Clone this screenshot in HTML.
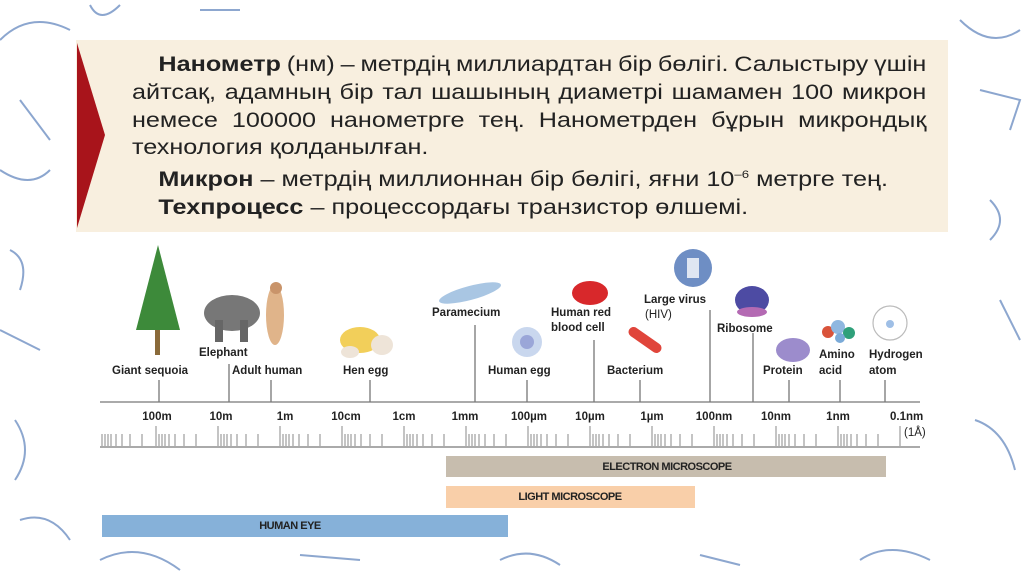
<!DOCTYPE html>
<html><head><meta charset="utf-8"><style>
html,body{margin:0;padding:0;background:#fff;}
body{width:1024px;height:576px;overflow:hidden;position:relative;font-family:"Liberation Sans",sans-serif;}
.box{position:absolute;left:76px;top:40px;width:872px;height:192px;background:#f8efdf;}
.txt{position:absolute;left:132px;top:51px;width:662px;font-size:21px;line-height:27.8px;color:#222;transform:scaleX(1.2);transform-origin:0 0;}
.txt div{white-space:nowrap;}
.j{display:flex;justify-content:space-between;}
.in{padding-left:22px;}
.txt b{font-weight:bold;}
</style></head><body>
<svg width="1024" height="576" style="position:absolute;left:0;top:0">
<g fill="none" stroke="#2f5fa8" stroke-width="2" opacity="0.55">
<path d="M0 40 Q30 10 70 30"/><path d="M90 5 q10 20 30 0"/><path d="M200 10 l40 0"/><path d="M960 20 q30 30 60 10"/>
<path d="M980 90 l40 10 l-10 30"/><path d="M990 200 q20 20 0 40"/><path d="M1000 300 l20 40"/><path d="M975 420 q30 10 40 50"/>
<path d="M10 250 q20 10 10 40"/><path d="M0 330 l40 20"/><path d="M15 420 q20 30 0 60"/><path d="M20 520 q30 -10 50 20"/>
<path d="M100 560 q40 -20 80 10"/><path d="M300 555 l60 5"/><path d="M500 560 q30 -15 60 5"/><path d="M700 555 l40 10"/><path d="M860 560 q30 -20 70 0"/>
<path d="M20 100 l30 40"/><path d="M0 170 q30 20 50 0"/>
</g>
</svg>
<div class="box"></div>
<svg width="1024" height="576" style="position:absolute;left:0;top:0">
<polygon points="77,43 105,135 77,228" fill="#a8141b"/>
</svg>
<div class="txt">
<div class="j in"><span><b>Нанометр</b></span><span>(нм)</span><span>–</span><span>метрдің</span><span>миллиардтан</span><span>бір</span><span>бөлігі.</span><span>Салыстыру</span><span>үшін</span></div>
<div class="j"><span>айтсақ,</span><span>адамның</span><span>бір</span><span>тал</span><span>шашының</span><span>диаметрі</span><span>шамамен</span><span>100</span><span>микрон</span></div>
<div class="j"><span>немесе</span><span>100000</span><span>нанометрге</span><span>тең.</span><span>Нанометрден</span><span>бұрын</span><span>микрондық</span></div>
<div>технология қолданылған.</div>
<div class="in"><b>Микрон</b> – метрдің миллионнан бір бөлігі, яғни 10<sup style="font-size:11px">–6</sup> метрге тең.</div>
<div class="in"><b>Техпроцесс</b> – процессордағы транзистор өлшемі.</div>
</div>
<svg width="1024" height="576" style="position:absolute;left:0;top:0" font-family="Liberation Sans, sans-serif" font-weight="bold" font-size="11.5" fill="#222">
<rect x="155" y="300" width="5" height="55" fill="#8a6a3a"/>
<polygon points="158,245 180,330 136,330" fill="#3d8a3a"/>
<ellipse cx="232" cy="313" rx="28" ry="18" fill="#777"/>
<rect x="215" y="320" width="8" height="22" fill="#666"/><rect x="240" y="320" width="8" height="22" fill="#666"/>
<ellipse cx="275" cy="315" rx="9" ry="30" fill="#e0b48a"/><circle cx="276" cy="288" r="6" fill="#c9946a"/>
<ellipse cx="360" cy="340" rx="20" ry="13" fill="#f2cf5a"/><ellipse cx="382" cy="345" rx="11" ry="10" fill="#eee4d8"/><ellipse cx="350" cy="352" rx="9" ry="6" fill="#eee4d8"/>
<ellipse cx="470" cy="293" rx="32" ry="7" fill="#a9c6e3" transform="rotate(-15 470 293)"/>
<circle cx="527" cy="342" r="15" fill="#c9d7ee"/><circle cx="527" cy="342" r="7" fill="#9aa6d8"/>
<ellipse cx="590" cy="293" rx="18" ry="12" fill="#d8282b"/>
<rect x="626" y="335" width="38" height="10" rx="5" fill="#e0453b" transform="rotate(35 645 340)"/>
<circle cx="693" cy="268" r="19" fill="#6e8ec4"/><rect x="687" y="258" width="12" height="20" fill="#dfe6f2"/>
<ellipse cx="752" cy="300" rx="17" ry="14" fill="#4d4ba3"/><ellipse cx="752" cy="312" rx="15" ry="5" fill="#b46ab3"/>
<ellipse cx="793" cy="350" rx="17" ry="12" fill="#9c8ccc"/>
<circle cx="828" cy="332" r="6" fill="#d9533a"/><circle cx="838" cy="327" r="7" fill="#8fb7e0"/><circle cx="849" cy="333" r="6" fill="#2fa07a"/><circle cx="840" cy="338" r="5" fill="#7aaad8"/>
<circle cx="890" cy="323" r="17" fill="none" stroke="#bbb" stroke-width="1.2"/><circle cx="890" cy="324" r="4" fill="#9fbfe6"/>
<g stroke="#777" stroke-width="1.3">
<line x1="159" y1="380" x2="159" y2="402"/><line x1="229" y1="364" x2="229" y2="402"/><line x1="271" y1="380" x2="271" y2="402"/>
<line x1="370" y1="380" x2="370" y2="402"/><line x1="475" y1="325" x2="475" y2="402"/><line x1="527" y1="380" x2="527" y2="402"/>
<line x1="594" y1="340" x2="594" y2="402"/><line x1="640" y1="380" x2="640" y2="402"/><line x1="710" y1="310" x2="710" y2="402"/>
<line x1="753" y1="333" x2="753" y2="402"/><line x1="789" y1="380" x2="789" y2="402"/><line x1="840" y1="380" x2="840" y2="402"/><line x1="885" y1="380" x2="885" y2="402"/>
<line x1="100" y1="402" x2="920" y2="402"/><line x1="100" y1="447" x2="920" y2="447"/>
</g>
<g stroke="#888" stroke-width="1">
<path d="M102 434v12M105 434v12M108 434v12M111 434v12M116 434v12M122 434v12M130 434v12M142 434v12M156 426v20M159 434v12M162 434v12M165 434v12M169 434v12M175 434v12M184 434v12M196 434v12M218 426v20M221 434v12M224 434v12M227 434v12M231 434v12M237 434v12M246 434v12M258 434v12M280 426v20M283 434v12M286 434v12M289 434v12M293 434v12M299 434v12M308 434v12M320 434v12M342 426v20M345 434v12M348 434v12M351 434v12M355 434v12M361 434v12M370 434v12M382 434v12M404 426v20M407 434v12M410 434v12M413 434v12M417 434v12M423 434v12M432 434v12M444 434v12M466 426v20M469 434v12M472 434v12M475 434v12M479 434v12M485 434v12M494 434v12M506 434v12M528 426v20M531 434v12M534 434v12M537 434v12M541 434v12M547 434v12M556 434v12M568 434v12M590 426v20M593 434v12M596 434v12M599 434v12M603 434v12M609 434v12M618 434v12M630 434v12M652 426v20M655 434v12M658 434v12M661 434v12M665 434v12M671 434v12M680 434v12M692 434v12M714 426v20M717 434v12M720 434v12M723 434v12M727 434v12M733 434v12M742 434v12M754 434v12M776 426v20M779 434v12M782 434v12M785 434v12M789 434v12M795 434v12M804 434v12M816 434v12M838 426v20M841 434v12M844 434v12M847 434v12M851 434v12M857 434v12M866 434v12M878 434v12M900 426v20"/>
</g>
<text x="112" y="374">Giant sequoia</text><text x="199" y="356">Elephant</text><text x="232" y="374">Adult human</text>
<text x="343" y="374">Hen egg</text><text x="432" y="316">Paramecium</text><text x="488" y="374">Human egg</text>
<text x="551" y="316">Human red</text><text x="551" y="331">blood cell</text><text x="607" y="374">Bacterium</text>
<text x="644" y="303">Large virus</text><text x="645" y="318" font-weight="normal">(HIV)</text><text x="717" y="332">Ribosome</text>
<text x="763" y="374">Protein</text><text x="819" y="358">Amino</text><text x="819" y="374">acid</text>
<text x="869" y="358">Hydrogen</text><text x="869" y="374">atom</text>
<g text-anchor="middle"><text x="157" y="420">100m</text><text x="221" y="420">10m</text><text x="285" y="420">1m</text><text x="346" y="420">10cm</text>
<text x="404" y="420">1cm</text><text x="465" y="420">1mm</text><text x="529" y="420">100µm</text><text x="590" y="420">10µm</text>
<text x="652" y="420">1µm</text><text x="714" y="420">100nm</text><text x="776" y="420">10nm</text><text x="838" y="420">1nm</text></g>
<text x="890" y="420">0.1nm</text><text x="904" y="436" font-weight="normal">(1Å)</text>
<rect x="446" y="456" width="440" height="21" fill="#c7bdae"/>
<rect x="446" y="486" width="249" height="22" fill="#f9cfa9"/>
<rect x="102" y="515" width="406" height="22" fill="#86b1d9"/>
<g font-size="11" letter-spacing="-0.5" text-anchor="middle"><text x="667" y="470">ELECTRON MICROSCOPE</text><text x="570" y="500">LIGHT MICROSCOPE</text><text x="290" y="529">HUMAN EYE</text></g>
</svg>
</body></html>
